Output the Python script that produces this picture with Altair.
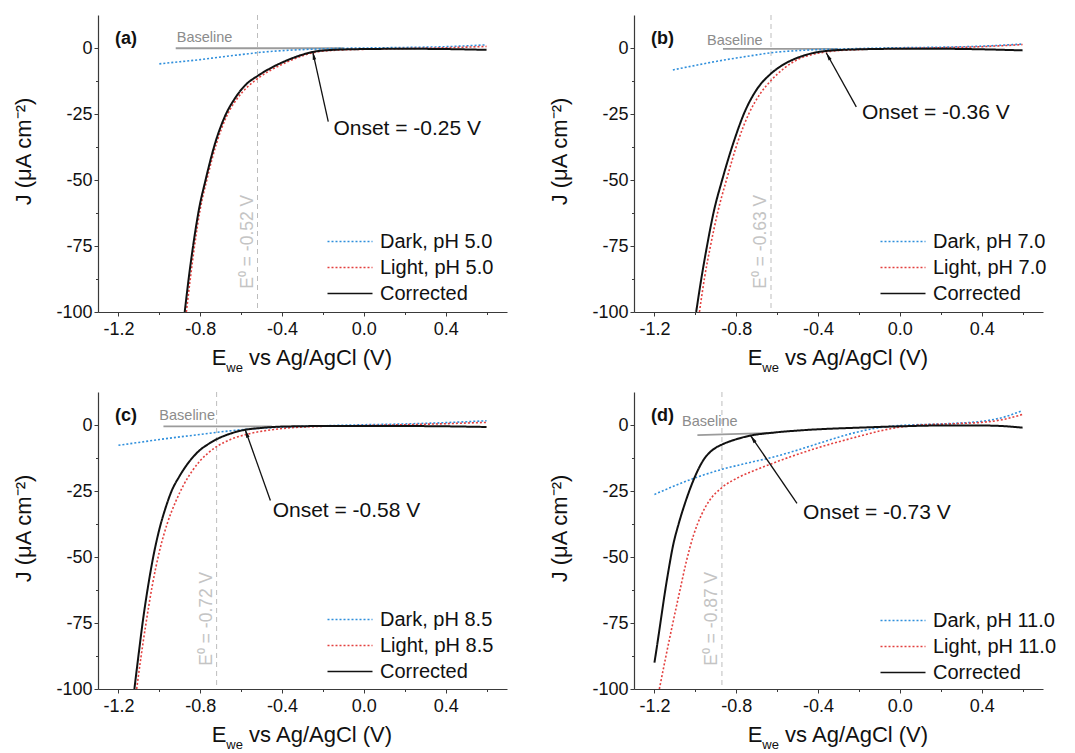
import math
import altair as alt
import pandas as pd

FONT = "Liberation Sans"
W, H = 409, 297
XDOM = [-1.3, 0.7]
YDOM = [-100, 12.5]
SX = W / (XDOM[1] - XDOM[0])
SY = H / (YDOM[1] - YDOM[0])

BLUE = "#2f8fdc"
RED = "#e3403f"
BLACK = "#111111"

XT = [-1.2, -1.0, -0.8, -0.6, -0.4, -0.2, 0.0, 0.2, 0.4, 0.6]
YT = [0, -12.5, -25, -37.5, -50, -62.5, -75, -87.5, -100]

# ---------------- panel (a) pH 5.0
a_dark_E = [-1.0, -0.9, -0.8, -0.7, -0.6, -0.5, -0.4, -0.3, -0.2, -0.1, 0.0, 0.2, 0.4, 0.6]
a_dark_J = [-6.0, -5.2, -4.4, -3.4, -2.5, -1.6, -1.0, -0.6, -0.3, -0.1, 0.0, 0.2, 0.5, 1.2]
a_light_E = [-0.868, -0.848, -0.828, -0.80, -0.768, -0.72, -0.672, -0.62, -0.57, -0.52, -0.46, -0.4, -0.33, -0.25, -0.15, 0.0, 0.2, 0.4, 0.6]
a_light_J = [-100, -87, -75, -61, -50, -36, -26, -19.2, -14.8, -11.6, -8.6, -6.2, -3.8, -1.8, -0.9, -0.5, -0.2, 0.1, 0.6]
a_corr_E = [-0.876, -0.856, -0.835, -0.806, -0.774, -0.727, -0.68, -0.628, -0.576, -0.52, -0.46, -0.4, -0.33, -0.25, -0.15, 0.0, 0.2, 0.4, 0.6]
a_corr_J = [-100, -87, -75, -61, -50, -36, -26, -18.8, -13.8, -10.6, -7.8, -5.5, -3.3, -1.5, -0.7, -0.4, -0.3, -0.4, -0.7]
a_base_E = [-0.92, -0.1]
a_base_J = [-0.1, -0.1]

# ---------------- panel (b) pH 7.0
b_dark_E = [-1.11, -1.0, -0.9, -0.8, -0.7, -0.63, -0.5, -0.4, -0.3, -0.2, 0.0, 0.2, 0.4, 0.6]
b_dark_J = [-8.3, -6.6, -5.1, -3.8, -2.6, -1.8, -1.0, -0.6, -0.4, -0.2, 0.1, 0.3, 0.7, 1.5]
b_light_E = [-0.98, -0.955, -0.926, -0.89, -0.848, -0.79, -0.739, -0.68, -0.63, -0.56, -0.49, -0.42, -0.34, -0.2, 0.0, 0.2, 0.4, 0.6]
b_light_J = [-100, -87, -75, -62, -50, -35, -25, -17, -12.3, -7.3, -4.0, -2.3, -1.3, -0.6, -0.2, 0.1, 0.5, 1.3]
b_corr_E = [-0.996, -0.97, -0.943, -0.91, -0.869, -0.81, -0.763, -0.698, -0.633, -0.57, -0.5, -0.43, -0.356, -0.2, 0.0, 0.2, 0.4, 0.6]
b_corr_J = [-100, -87, -75, -62, -50, -35, -25, -15.5, -9.9, -6.3, -3.7, -2.0, -1.1, -0.5, -0.3, -0.3, -0.5, -0.9]
b_base_E = [-0.865, -0.3]
b_base_J = [-0.3, -0.3]

# ---------------- panel (c) pH 8.5
c_dark_E = [-1.2, -1.1, -1.0, -0.9, -0.8, -0.72, -0.6, -0.5, -0.4, -0.2, 0.0, 0.2, 0.4, 0.6]
c_dark_J = [-7.7, -6.6, -5.5, -4.5, -3.6, -2.8, -1.8, -1.2, -0.8, -0.3, 0.1, 0.4, 0.9, 1.6]
c_light_E = [-1.111, -1.09, -1.065, -1.035, -1.0, -0.96, -0.92, -0.88, -0.84, -0.8, -0.76, -0.72, -0.65, -0.56, -0.45, -0.35, -0.2, 0.0, 0.2, 0.4, 0.6]
c_light_J = [-100, -88, -75, -61, -48, -37, -29, -22.5, -17.5, -13.5, -10.5, -8.2, -5.4, -3.3, -1.8, -1.0, -0.5, -0.2, 0.1, 0.5, 1.0]
c_corr_E = [-1.122, -1.1, -1.082, -1.055, -1.03, -1.0, -0.97, -0.94, -0.9, -0.853, -0.8, -0.76, -0.72, -0.65, -0.58, -0.5, -0.4, -0.2, 0.0, 0.2, 0.4, 0.6]
c_corr_J = [-100, -86, -75, -61, -50, -39.5, -31.5, -25, -19.2, -13.8, -9.4, -7.2, -5.4, -3.2, -1.8, -1.1, -0.6, -0.4, -0.4, -0.4, -0.5, -0.75]
c_base_E = [-0.98, -0.45]
c_base_J = [-0.5, -0.5]

# ---------------- panel (d) pH 11.0
d_dark_E = [-1.2, -1.0, -0.87, -0.75, -0.622, -0.5, -0.378, -0.215, -0.1, 0.0, 0.2, 0.4, 0.5, 0.6]
d_dark_J = [-26.3, -20, -16.8, -14.5, -12.2, -9.5, -6.5, -2.8, -1.0, -0.2, 0.4, 1.4, 2.8, 5.5]
d_light_E = [-1.176, -1.145, -1.11, -1.075, -1.045, -1.01, -0.97, -0.93, -0.87, -0.785, -0.671, -0.541, -0.4, -0.215, -0.1, 0.0, 0.1, 0.2, 0.3, 0.4, 0.5, 0.6]
d_light_J = [-100, -88, -75, -62.5, -52, -42, -34, -28.5, -23.7, -19.7, -16, -12.2, -8.6, -4.6, -2.3, -0.8, 0.0, 0.3, 0.6, 1.0, 2.0, 4.0]
d_corr_E = [-1.2, -1.19, -1.17, -1.15, -1.13, -1.11, -1.08, -1.05, -1.02, -0.99, -0.96, -0.93, -0.9, -0.87, -0.8, -0.73, -0.62, -0.46, -0.2, 0.0, 0.2, 0.4, 0.5, 0.6]
d_corr_J = [-90, -85, -74.5, -64, -54.5, -46, -37, -29.5, -23, -17.5, -13.2, -10.4, -8.6, -7.4, -5.4, -4.0, -2.9, -1.9, -1.0, -0.5, -0.2, -0.2, -0.4, -1.0]
d_base_E = [-0.99, -0.62]
d_base_J = [-3.8, -3.0]

PANELS = [
    dict(tag="(a)", ph="5.0", dark=(a_dark_E, a_dark_J), light=(a_light_E, a_light_J),
         corr=(a_corr_E, a_corr_J), base=(a_base_E, a_base_J), base_lab=(-0.915, 1.5),
         e0=-0.52, onset=-0.25, head_J=-1.4, tail=(-0.174, -27.9), text=(-0.149, -30.5),
         leg=(229, 216.5)),
    dict(tag="(b)", ph="7.0", dark=(b_dark_E, b_dark_J), light=(b_light_E, b_light_J),
         corr=(b_corr_E, b_corr_J), base=(b_base_E, b_base_J), base_lab=(-0.943, 0.5),
         e0=-0.63, onset=-0.36, head_J=-1.8, tail=(-0.213, -22.3), text=(-0.185, -24.5),
         leg=(246, 216.5)),
    dict(tag="(c)", ph="8.5", dark=(c_dark_E, c_dark_J), light=(c_light_E, c_light_J),
         corr=(c_corr_E, c_corr_J), base=(c_base_E, c_base_J), base_lab=(-1.0, 1.0),
         e0=-0.72, onset=-0.58, head_J=-1.8, tail=(-0.457, -28.6), text=(-0.446, -32.4),
         leg=(229, 217.5)),
    dict(tag="(d)", ph="11.0", dark=(d_dark_E, d_dark_J), light=(d_light_E, d_light_J),
         corr=(d_corr_E, d_corr_J), base=(d_base_E, d_base_J), base_lab=(-1.065, -1.3),
         e0=-0.87, onset=-0.73, head_J=-4.0, tail=(-0.503, -29.7), text=(-0.473, -33.3),
         leg=(246, 218.5)),
]

ARROW = "M0,0L-0.35,1.6L0.35,1.6Z"
LEG_SYMBOL = "M-4.5,0H4.5"

X_MAJOR = "abs(round(datum.value*10)) % 4 == 0"
Y_MAJOR = "datum.value % 25 == 0"


def head_angle(hx, hy, tx, ty):
    bx = (tx - hx) * SX
    by = -(ty - hy) * SY
    return (-math.degrees(math.atan2(bx, by))) % 360


def fmt(v):
    return ("-" if v < 0 else "") + f"{abs(v):.2f}"


def make_panel(p):
    dark_name = f"Dark, pH {p['ph']}"
    light_name = f"Light, pH {p['ph']}"
    names = [dark_name, light_name, "Corrected"]
    rows = []
    for n, (xs, ys) in zip(names, [p["dark"], p["light"], p["corr"]]):
        for i, (x, y) in enumerate(zip(xs, ys)):
            rows.append({"E": x, "J": y, "series": n, "i": i})
    df = pd.DataFrame(rows)

    xscale = alt.Scale(domain=XDOM, nice=False, zero=False)
    yscale = alt.Scale(domain=YDOM, nice=False, zero=False)
    xaxis = alt.Axis(values=XT, title=None, grid=False,
                     labelExpr=f"{X_MAJOR} ? (datum.value < 0 ? '-' : '') + format(abs(datum.value), '.1f') : ''",
                     tickSize={"condition": {"test": X_MAJOR, "value": 4}, "value": 2.5},
                     labelPadding=4)
    yaxis = alt.Axis(values=YT, title="J (μA cm⁻²)", grid=False,
                     labelExpr=f"{Y_MAJOR} ? (datum.value < 0 ? '-' : '') + format(abs(datum.value), 'd') : ''",
                     tickSize={"condition": {"test": Y_MAJOR, "value": 4}, "value": 2.5},
                     labelPadding=2, titlePadding=20, titleY=136)
    X = alt.X("E:Q", scale=xscale, axis=xaxis)
    Y = alt.Y("J:Q", scale=yscale, axis=yaxis)

    legend = alt.Legend(title=None, orient="none", legendX=p["leg"][0], legendY=p["leg"][1],
                        symbolType=LEG_SYMBOL, symbolSize=100, symbolStrokeWidth=1.7,
                        symbolOffset=13, labelOffset=20, rowPadding=6, padding=0,
                        labelFont=FONT, labelFontSize=20, labelColor=BLACK)

    lines = alt.Chart(df).mark_line(clip=True, interpolate="monotone").encode(
        x=X, y=Y,
        color=alt.Color("series:N", scale=alt.Scale(domain=names, range=[BLUE, RED, BLACK]), legend=legend),
        strokeDash=alt.StrokeDash("series:N", scale=alt.Scale(domain=names, range=[[2, 2], [2, 2], [1, 0]]), legend=legend),
        strokeWidth=alt.condition(alt.datum.series == "Corrected", alt.value(2.0), alt.value(1.6)),
        order="i:Q",
    )

    base_df = pd.DataFrame({"E": p["base"][0], "J": p["base"][1]})
    base = alt.Chart(base_df).mark_line(color="#9b9b9b", strokeWidth=1.8).encode(x=X, y=Y)

    base_txt = alt.Chart(pd.DataFrame({"E": [p["base_lab"][0]], "J": [p["base_lab"][1]], "t": ["Baseline"]})).mark_text(
        align="left", baseline="alphabetic", font=FONT, fontSize=14.5, color="#8c8c8c", dy=-2
    ).encode(x=X, y=Y, text="t:N")

    e0_df = pd.DataFrame({"E": [p["e0"]], "J": [-91.2], "t": [f"E⁰ = {fmt(p['e0'])} V"]})
    e0_rule = alt.Chart(e0_df).mark_rule(color="#bdbdbd", strokeDash=[5, 4], strokeWidth=1).encode(x=X)
    e0_txt = alt.Chart(e0_df).mark_text(
        angle=270, align="left", baseline="alphabetic", dy=-5, font=FONT, fontSize=17.5, color="#c4c4c4"
    ).encode(x=X, y=Y, text="t:N")

    hx, hy = p["onset"], p["head_J"]
    tx, ty = p["tail"]
    arr_df = pd.DataFrame({"E": [tx], "J": [ty], "E2": [hx], "J2": [hy]})
    arr_rule = alt.Chart(arr_df).mark_rule(color=BLACK, strokeWidth=1.3).encode(
        x=X, y=Y, x2=alt.X2("E2:Q"), y2=alt.Y2("J2:Q"))
    head_df = pd.DataFrame({"E": [hx], "J": [hy]})
    arr_head = alt.Chart(head_df).mark_point(
        shape=ARROW, filled=True, size=100, opacity=1, color=BLACK
    ).encode(x=X, y=Y, angle=alt.value(head_angle(hx, hy, tx, ty)))

    on_df = pd.DataFrame({"E": [p["text"][0]], "J": [p["text"][1]], "t": [f"Onset = {fmt(p['onset'])} V"]})
    on_txt = alt.Chart(on_df).mark_text(
        align="left", baseline="middle", font=FONT, fontSize=21, color=BLACK
    ).encode(x=X, y=Y, text="t:N")

    one = pd.DataFrame({"k": [0]})
    tag = alt.Chart(one).mark_text(
        align="left", baseline="alphabetic", font=FONT, fontSize=18, fontWeight="bold", color=BLACK
    ).encode(x=alt.value(17), y=alt.value(29), text=alt.value(p["tag"]))

    # x-axis title with subscript
    fs_main, fs_sub = 22, 13
    w_E = 0.667 * fs_main
    w_we = 1.278 * fs_sub
    w_sp = 0.278 * fs_main
    w_rest = 6.557 * fs_main
    total = w_E + w_we + w_sp + w_rest
    x0 = W / 2 - total / 2
    t1 = alt.Chart(one).mark_text(align="left", baseline="alphabetic", font=FONT, fontSize=fs_main, color=BLACK).encode(
        x=alt.value(x0), y=alt.value(H + 53), text=alt.value("E"))
    t2 = alt.Chart(one).mark_text(align="left", baseline="alphabetic", font=FONT, fontSize=fs_sub, color=BLACK).encode(
        x=alt.value(x0 + w_E), y=alt.value(H + 60), text=alt.value("we"))
    t3 = alt.Chart(one).mark_text(align="left", baseline="alphabetic", font=FONT, fontSize=fs_main, color=BLACK).encode(
        x=alt.value(x0 + w_E + w_we + w_sp), y=alt.value(H + 53), text=alt.value("vs Ag/AgCl (V)"))

    return alt.layer(e0_rule, base, lines, e0_txt, base_txt, arr_rule, arr_head, on_txt, tag, t1, t2, t3).properties(
        width=W, height=H)


pa, pb, pc, pd_ = [make_panel(p) for p in PANELS]

RES = dict(color="independent", strokeDash="independent")
row1 = alt.hconcat(pa, pb, spacing=41).resolve_scale(**RES)
row2 = alt.hconcat(pc, pd_, spacing=41).resolve_scale(**RES)
chart = alt.vconcat(row1, row2, spacing=16).resolve_scale(**RES).properties(
    padding={"left": 12, "top": 14, "right": 5, "bottom": 2},
    background="white",
).configure_view(strokeWidth=0).configure_axis(
    domainColor="#3a3a3a", domainWidth=1.2, tickColor="#3a3a3a", tickWidth=1,
    labelFont=FONT, labelFontSize=18, labelColor=BLACK,
    titleFont=FONT, titleFontSize=22, titleFontWeight="normal", titleColor=BLACK,
)

chart.save("out.html", embed_options={"renderer": "svg", "actions": False})
